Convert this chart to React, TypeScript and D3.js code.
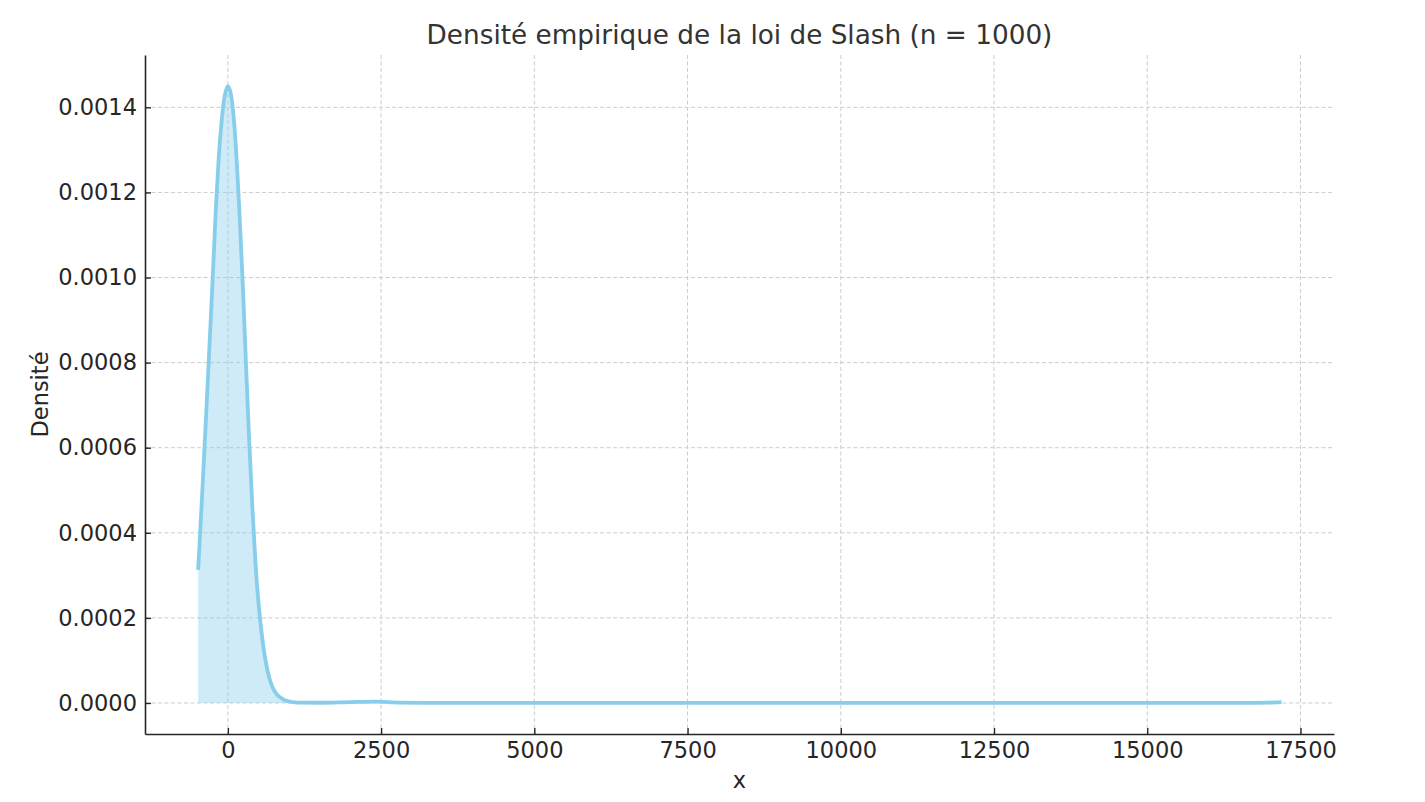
import React, { useEffect, useRef } from "react";
import * as d3 from "d3";

// valeurs (densité empirique)
const xValues = [
  -485, -450, -400, -350, -300, -250, -200, -150, -100, -50, 0, 50, 100, 150,
  200, 250, 300, 350, 400, 450, 500, 550, 600, 650, 700, 750, 800, 900, 1000,
  1100, 1200, 1500, 2000, 2400, 2800, 3500, 5000, 8000, 12000, 15000, 16500,
  17000, 17190,
];
const densityValues = [
  0.000313, 0.000405, 0.000545, 0.00069, 0.00084, 0.00099, 0.00115, 0.00128,
  0.00137, 0.001428, 0.00145, 0.00143, 0.001368, 0.00126, 0.00112, 0.00096,
  0.00078, 0.00061, 0.00046, 0.00033, 0.000235, 0.000165, 0.000112, 0.000074,
  0.000048, 0.000031, 0.00002, 0.0000085, 0.0000035, 0.0000015, 0.0000008,
  0.0000005, 0.000002, 0.000003, 0.000001, 0.0000003, 0.0000002, 0.0000001,
  0.0000001, 0.0000001, 0.0000002, 0.000001, 0.000002,
];
const xTicks = [0, 2500, 5000, 7500, 10000, 12500, 15000, 17500];
const yTicks = [0, 0.0002, 0.0004, 0.0006, 0.0008, 0.001, 0.0012, 0.0014];

const W = 1425;
const H = 802;
const margin = { top: 55, right: 91, bottom: 68, left: 145 };
const font = "DejaVu Sans, sans-serif";

export default function App() {
  const ref = useRef<SVGSVGElement>(null);

  useEffect(() => {
    document.body.style.margin = "0";
    const svg = d3.select(ref.current);
    svg.selectAll("*").remove();

    const width = W - margin.left - margin.right;
    const height = H - margin.top - margin.bottom;

    const x = d3.scaleLinear().domain([-1352, 18047]).range([0, width]);
    const y = d3.scaleLinear().domain([-0.0000729, 0.001523]).range([height, 0]);

    const g = svg
      .append("g")
      .attr("transform", `translate(${margin.left},${margin.top})`);

    // grille
    g.append("g")
      .selectAll("line")
      .data(xTicks)
      .join("line")
      .attr("x1", (d) => x(d))
      .attr("x2", (d) => x(d))
      .attr("y1", 0)
      .attr("y2", height)
      .attr("stroke", "#cccccc")
      .attr("stroke-width", 1)
      .attr("stroke-dasharray", "4,2.5");
    g.append("g")
      .selectAll("line")
      .data(yTicks)
      .join("line")
      .attr("x1", 0)
      .attr("x2", width)
      .attr("y1", (d) => y(d))
      .attr("y2", (d) => y(d))
      .attr("stroke", "#cccccc")
      .attr("stroke-width", 1)
      .attr("stroke-dasharray", "4,2.5");

    const pts: [number, number][] = xValues.map((v, i) => [v, densityValues[i]]);

    const area = d3
      .area<[number, number]>()
      .x((d) => x(d[0]))
      .y0(y(0))
      .y1((d) => y(d[1]))
      .curve(d3.curveMonotoneX);
    g.append("path")
      .datum(pts)
      .attr("d", area)
      .attr("fill", "skyblue")
      .attr("fill-opacity", 0.4);

    const line = d3
      .line<[number, number]>()
      .x((d) => x(d[0]))
      .y((d) => y(d[1]))
      .curve(d3.curveMonotoneX);
    g.append("path")
      .datum(pts)
      .attr("d", line)
      .attr("fill", "none")
      .attr("stroke", "skyblue")
      .attr("stroke-width", 3.8);

    // axes
    const xAxis = g
      .append("g")
      .attr("transform", `translate(0,${height})`)
      .call(
        d3
          .axisBottom(x)
          .tickValues(xTicks)
          .tickSizeInner(-6)
          .tickSizeOuter(0)
          .tickPadding(8)
          .tickFormat(d3.format("d"))
      );
    const yAxis = g.append("g").call(
      d3
        .axisLeft(y)
        .tickValues(yTicks)
        .tickSizeInner(-6)
        .tickSizeOuter(0)
        .tickPadding(8)
        .tickFormat(d3.format(".4f"))
    );
    [xAxis, yAxis].forEach((a) => {
      a.select(".domain").attr("stroke", "#262626").attr("stroke-width", 1.6);
      a.selectAll(".tick line").attr("stroke", "#262626").attr("stroke-width", 1.4);
      a.selectAll(".tick text")
        .attr("fill", "#262626")
        .style("font-family", font)
        .style("font-size", "22.5px");
    });
    xAxis.selectAll(".tick text").attr("dy", "0.71em");

    // titres
    svg
      .append("text")
      .attr("x", margin.left + width / 2)
      .attr("y", 44)
      .attr("text-anchor", "middle")
      .attr("fill", "#333333")
      .style("font-family", font)
      .style("font-size", "26.3px")
      .text("Densité empirique de la loi de Slash (n = 1000)");

    svg
      .append("text")
      .attr("x", margin.left + width / 2)
      .attr("y", 788)
      .attr("text-anchor", "middle")
      .attr("fill", "#262626")
      .style("font-family", font)
      .style("font-size", "22.5px")
      .text("x");

    svg
      .append("text")
      .attr("transform", `translate(48,${margin.top + height / 2}) rotate(-90)`)
      .attr("text-anchor", "middle")
      .attr("fill", "#262626")
      .style("font-family", font)
      .style("font-size", "22.5px")
      .text("Densité");
  }, []);

  return <svg ref={ref} width={W} height={H} style={{ display: "block", background: "#fff" }} />;
}
